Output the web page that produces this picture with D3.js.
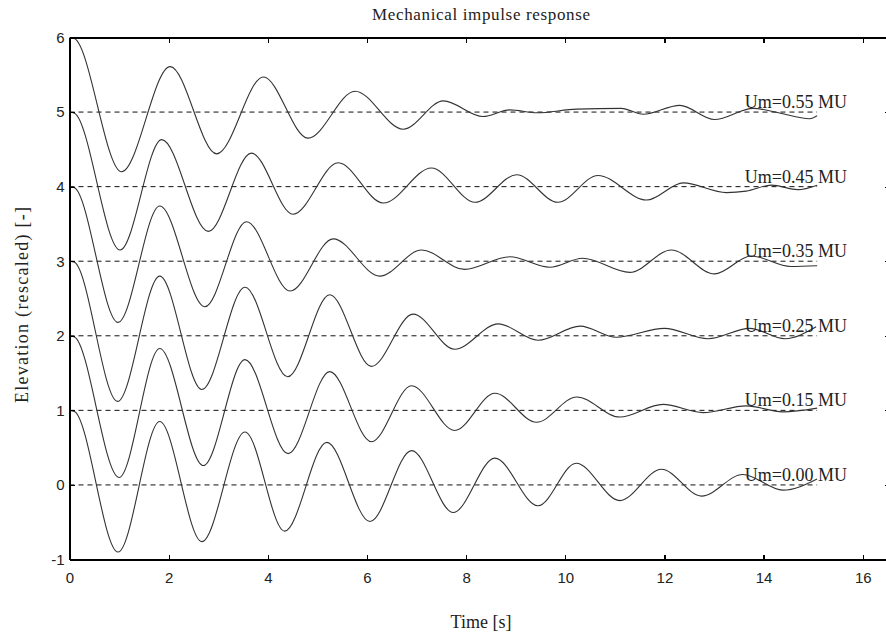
<!DOCTYPE html>
<html>
<head>
<meta charset="utf-8">
<script src="https://d3js.org/d3.v7.min.js"></script>
<style>
  body { margin: 0; background: #fff; overflow: hidden; }
  .axis path, .axis line { stroke: #000; stroke-width: 1.2; shape-rendering: crispEdges; }
  .axis text { font-family: "Liberation Sans", Arial, sans-serif; font-size: 15px; fill: #222; }
  .serif { font-family: "Liberation Serif", "Times New Roman", serif; fill: #222; }
</style>
</head>
<body>
<script>
var w = 886, h = 637;

// tick values
var xTicks = [0, 2, 4, 6, 8, 10, 12, 14, 16],
    yTicks = [-1, 0, 1, 2, 3, 4, 5, 6];

// one trace per Um value, [time, elevation]
var baselines = [0, 1, 2, 3, 4, 5];
var umNames = ["Um=0.00 MU", "Um=0.15 MU", "Um=0.25 MU", "Um=0.35 MU", "Um=0.45 MU", "Um=0.55 MU"];

var um000 = [[0, 1], [0.1, 0.985], [0.98, -0.90], [1.82, 0.85], [2.67, -0.76], [3.54, 0.71], [4.34, -0.62],
  [5.19, 0.57], [6.06, -0.49], [6.90, 0.46], [7.74, -0.37], [8.58, 0.36], [9.45, -0.28], [10.22, 0.29],
  [11.10, -0.21], [11.94, 0.21], [12.75, -0.15], [13.58, 0.14], [14.39, -0.07], [15.08, 0.08]];
var um015 = [[0, 2], [0.1, 1.985], [1.0, 0.10], [1.82, 1.83], [2.70, 0.26], [3.54, 1.68], [4.41, 0.42],
  [5.25, 1.52], [6.09, 0.58], [6.90, 1.33], [7.77, 0.73], [8.58, 1.23], [9.42, 0.84], [10.23, 1.18],
  [11.10, 0.91], [11.97, 1.08], [12.78, 0.97], [13.65, 1.06], [14.39, 0.98], [15.08, 1.03]];
var um025 = [[0, 3], [0.1, 2.985], [0.97, 1.12], [1.82, 2.80], [2.67, 1.28], [3.54, 2.65], [4.40, 1.45],
  [5.25, 2.55], [6.09, 1.59], [6.93, 2.29], [7.77, 1.82], [8.65, 2.16], [9.45, 1.94], [10.30, 2.13],
  [11.03, 1.98], [12.0, 2.10], [12.88, 1.96], [13.72, 2.10], [14.43, 1.96], [15.06, 2.12]];
var um035 = [[0, 4], [0.1, 3.985], [0.98, 2.18], [1.82, 3.74], [2.73, 2.39], [3.57, 3.53], [4.45, 2.60],
  [5.32, 3.30], [6.26, 2.80], [7.10, 3.15], [7.97, 2.89], [8.88, 3.06], [9.69, 2.92], [10.35, 3.04],
  [11.30, 2.85], [12.14, 3.15], [13.01, 2.83], [13.75, 3.07], [14.55, 2.93], [15.08, 2.94]];
var um045 = [[0, 5], [0.1, 4.985], [1.02, 3.15], [1.86, 4.63], [2.80, 3.40], [3.67, 4.45], [4.51, 3.63],
  [5.42, 4.32], [6.33, 3.78], [7.30, 4.25], [8.18, 3.79], [9.02, 4.16], [9.85, 3.79], [10.66, 4.15],
  [11.64, 3.82], [12.38, 4.05], [13.25, 3.92], [13.65, 3.94], [14.16, 4.02], [14.69, 3.96], [15.08, 4.02]];
var um055 = [[0, 6], [0.1, 5.985], [1.05, 4.20], [2.03, 5.61], [2.97, 4.44], [3.91, 5.47], [4.81, 4.65],
  [5.76, 5.28], [6.73, 4.77], [7.54, 5.15], [8.34, 4.94], [8.88, 5.03], [9.42, 4.99], [10.23, 5.04],
  [11.13, 5.05], [11.57, 4.97], [12.31, 5.09], [13.01, 4.90], [13.79, 5.05], [14.3, 4.99], [14.93, 4.91], [15.08, 4.95]];

var traces = [um000, um015, um025, um035, um045, um055];
var tEnd = 15.08, labelT = 13.62;

var x = d3.scaleLinear().domain([0, 16.55]).range([69.5, 890]),
    y = d3.scaleLinear().domain([-1, 6]).range([559.5, 37.5]);

var svg = d3.select("body")
    .append("svg")
    .attr("width", w)
    .attr("height", h)
    .style("display", "block")

// dashed reference lines
svg.selectAll(".ref").data(baselines).enter().append("line")
    .attr("class", "ref")
    .attr("x1", x(0)).attr("x2", x(tEnd))
    .attr("y1", function (d) { return y(d) }).attr("y2", function (d) { return y(d) })
    .attr("stroke", "#111").attr("stroke-width", 1).attr("stroke-dasharray", "5,4")

var line = d3.line()
    .x(function (d) { return x(d[0]) })
    .y(function (d) { return y(d[1]) })
    .curve(d3.curveMonotoneX)

svg.selectAll(".trace").data(traces).enter().append("path")
    .attr("class", "trace")
    .attr("d", line)
    .attr("fill", "none").attr("stroke", "#333").attr("stroke-width", 1.1)

svg.selectAll(".umlabel").data(baselines).enter().append("text")
    .attr("class", "umlabel serif")
    .attr("x", x(labelT))
    .attr("y", function (d) { return y(d) - 4 })
    .style("font-size", "18px")
    .text(function (d, i) { return umNames[i] })

// box with inward ticks, plain hyphen for negatives
var fmt = function (d) { return String(d) }

svg.append("g").attr("class", "axis")
    .attr("transform", "translate(0," + y(-1) + ")")
    .call(d3.axisBottom(x).tickValues(xTicks).tickSize(-5).tickSizeOuter(0).tickPadding(13).tickFormat(fmt))
svg.append("g").attr("class", "axis")
    .attr("transform", "translate(" + x(0) + ",0)")
    .call(d3.axisLeft(y).tickValues(yTicks).tickSize(-5).tickSizeOuter(0).tickPadding(5).tickFormat(fmt))
svg.append("g").attr("class", "axis")
    .attr("transform", "translate(0," + y(6) + ")")
    .call(d3.axisTop(x).tickValues(xTicks).tickSize(-5).tickSizeOuter(0).tickFormat(""))
// right side sits just past the window edge: only the tick stubs show
svg.append("g").attr("class", "axis")
    .attr("transform", "translate(" + x(16.55) + ",0)")
    .call(d3.axisRight(y).tickValues(yTicks).tickSize(-5).tickSizeOuter(0).tickFormat(""))
    .call(function (g) { g.select(".domain").remove() })

// titles
svg.append("text").attr("class", "serif")
    .attr("x", 481).attr("y", 20)
    .attr("text-anchor", "middle")
    .attr("textLength", 218).attr("lengthAdjust", "spacing")
    .style("font-size", "17px")
    .text("Mechanical impulse response")

svg.append("text").attr("class", "serif")
    .attr("x", 481).attr("y", 628)
    .attr("text-anchor", "middle")
    .style("font-size", "18px")
    .text("Time [s]")

svg.append("text").attr("class", "serif")
    .attr("transform", "translate(28,305) rotate(-90)")
    .attr("text-anchor", "middle")
    .attr("textLength", 196).attr("lengthAdjust", "spacing")
    .style("font-size", "18px")
    .text("Elevation (rescaled) [-]")
</script>
</body>
</html>
